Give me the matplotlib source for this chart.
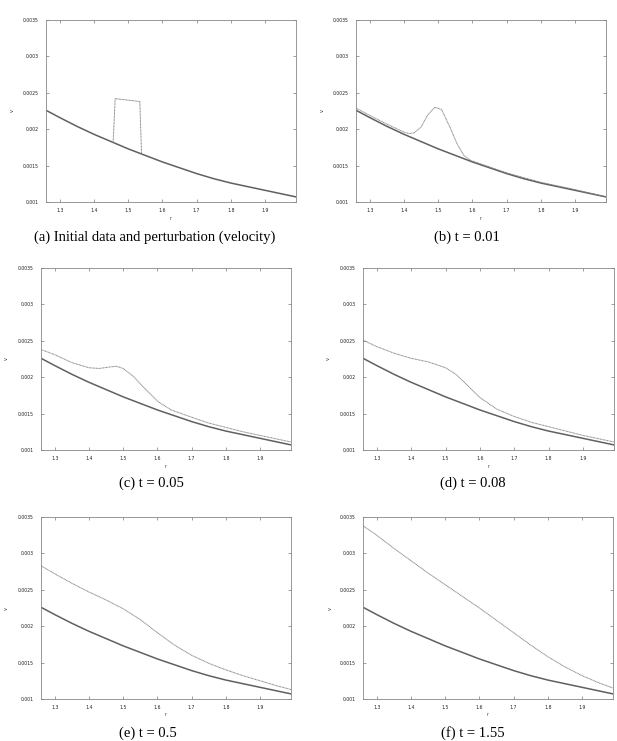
import matplotlib
matplotlib.use('Agg')
import matplotlib.pyplot as plt

# Background (unperturbed) velocity profile, shared by all panels
base_r = [1.26, 1.30, 1.35, 1.40, 1.45, 1.50, 1.55, 1.60, 1.65, 1.70,
          1.75, 1.80, 1.85, 1.90, 1.95, 1.99]
base_v = [0.00226, 0.00216, 0.00204, 0.00193, 0.00183, 0.00173, 0.00164,
          0.00155, 0.00147, 0.00139, 0.00132, 0.00126, 0.00121, 0.00116,
          0.00111, 0.00107]

# (a) initial perturbation (square pulse)
a_r = [1.456, 1.462, 1.534, 1.539]
a_v = [0.00181, 0.00242, 0.00238, 0.00166]

# (b) t = 0.01
b_r = [1.26, 1.30, 1.35, 1.40, 1.415, 1.43, 1.45, 1.47, 1.49, 1.51, 1.535,
       1.555, 1.575, 1.595, 1.62, 1.70, 1.80, 1.90, 1.99]
b_v = [0.00229, 0.00219, 0.00207, 0.00196, 0.00194, 0.00195, 0.00203,
       0.00220, 0.00230, 0.00227, 0.00202, 0.00180, 0.00164, 0.00157,
       0.00153, 0.00140, 0.00127, 0.00117, 0.00107]

# (c) t = 0.05
c_r = [1.26, 1.30, 1.35, 1.40, 1.43, 1.46, 1.48, 1.50, 1.53, 1.56, 1.60,
       1.64, 1.70, 1.75, 1.80, 1.85, 1.90, 1.95, 1.99]
c_v = [0.00238, 0.00231, 0.00220, 0.00213, 0.00212, 0.00214, 0.00215,
       0.00212, 0.00201, 0.00186, 0.00167, 0.00155, 0.00145, 0.00137,
       0.00131, 0.00125, 0.00120, 0.00115, 0.00111]

# (d) t = 0.08
d_r = [1.26, 1.30, 1.35, 1.40, 1.45, 1.50, 1.53, 1.57, 1.60, 1.65, 1.70,
       1.75, 1.80, 1.85, 1.90, 1.95, 1.99]
d_v = [0.00251, 0.00242, 0.00233, 0.00226, 0.00221, 0.00213, 0.00204,
       0.00186, 0.00172, 0.00156, 0.00146, 0.00138, 0.00132, 0.00126,
       0.00120, 0.00115, 0.00111]

# (e) t = 0.5
e_r = [1.26, 1.30, 1.35, 1.40, 1.45, 1.50, 1.55, 1.60, 1.65, 1.70, 1.75,
       1.80, 1.85, 1.90, 1.95, 1.99]
e_v = [0.00283, 0.00272, 0.00259, 0.00247, 0.00236, 0.00224, 0.00209,
       0.00191, 0.00174, 0.00160, 0.00149, 0.00140, 0.00132, 0.00125,
       0.00118, 0.00113]

# (f) t = 1.55
f_r = [1.26, 1.30, 1.35, 1.40, 1.45, 1.50, 1.55, 1.60, 1.65, 1.70, 1.75,
       1.80, 1.85, 1.90, 1.95, 1.99]
f_v = [0.00338, 0.00325, 0.00307, 0.00290, 0.00273, 0.00257, 0.00241,
       0.00225, 0.00208, 0.00191, 0.00174, 0.00158, 0.00144, 0.00132,
       0.00122, 0.00115]

x_ticks = [1.3, 1.4, 1.5, 1.6, 1.7, 1.8, 1.9]
x_labels = ['1.3', '1.4', '1.5', '1.6', '1.7', '1.8', '1.9']
y_ticks = [0.001, 0.0015, 0.002, 0.0025, 0.003, 0.0035]
y_labels = ['0.001', '0.0015', '0.002', '0.0025', '0.003', '0.0035']

captions = ['(a) Initial data and perturbation (velocity)', '(b) t = 0.01',
            '(c) t = 0.05', '(d) t = 0.08', '(e) t = 0.5', '(f) t = 1.55']

W, H = 617, 741
fig = plt.figure(figsize=(W / 100, H / 100), dpi=100)

# pixel boxes: left, right, top, bottom
boxes = [(46, 296, 20, 202), (356, 606, 20, 202),
         (41, 291, 268, 450), (363, 614, 268, 450),
         (41, 291, 517, 699), (363, 613, 517, 699)]
caption_pos = [(155, 237), (467, 237), (151, 483), (473, 483),
               (148, 733), (473, 733)]
ylabel_x = [12, 322, 6, 328, 6, 330]

curves = [(a_r, a_v), (b_r, b_v), (c_r, c_v), (d_r, d_v), (e_r, e_v), (f_r, f_v)]

for i, (l, r, t, b) in enumerate(boxes):
    ax = fig.add_axes([l / W, 1 - b / H, (r - l) / W, (b - t) / H])

    # solid background curve, dotted perturbed curve
    ax.plot(base_r, base_v, color='#606060', lw=1.1)
    pr, pv = curves[i]
    ax.plot(pr, pv, color='#808080', lw=0.7, linestyle=(0, (1, 0.5)))

    ax.set_xlim(1.26, 1.99)
    ax.set_ylim(0.001, 0.0035)
    ax.set_xticks(x_ticks)
    ax.set_xticklabels(x_labels)
    ax.set_yticks(y_ticks)
    ax.set_yticklabels(y_labels)
    ax.tick_params(direction='in', length=2, width=0.5, labelsize=3.3,
                   top=True, right=True, colors='#777777',
                   labelcolor='#222222')
    ax.tick_params(axis='y', pad=5)
    ax.tick_params(axis='x', pad=4)
    for s in ax.spines.values():
        s.set_color('#888888')
        s.set_linewidth(0.6)

    # axis labels placed in figure pixels
    fig.text(((l + r) / 2) / W, 1 - (b + 16) / H, 'r', fontsize=3.3,
             ha='center', va='center', color='#333333')
    fig.text(ylabel_x[i] / W, 1 - ((t + b) / 2) / H, 'v', fontsize=3.6,
             ha='center', va='center', rotation=90, color='#333333')

    cx, cy = caption_pos[i]
    fig.text(cx / W, 1 - cy / H, captions[i], fontsize=10.5,
             family='Liberation Serif', ha='center', va='center')

plt.savefig('out.png', dpi=100)
plt.close()
